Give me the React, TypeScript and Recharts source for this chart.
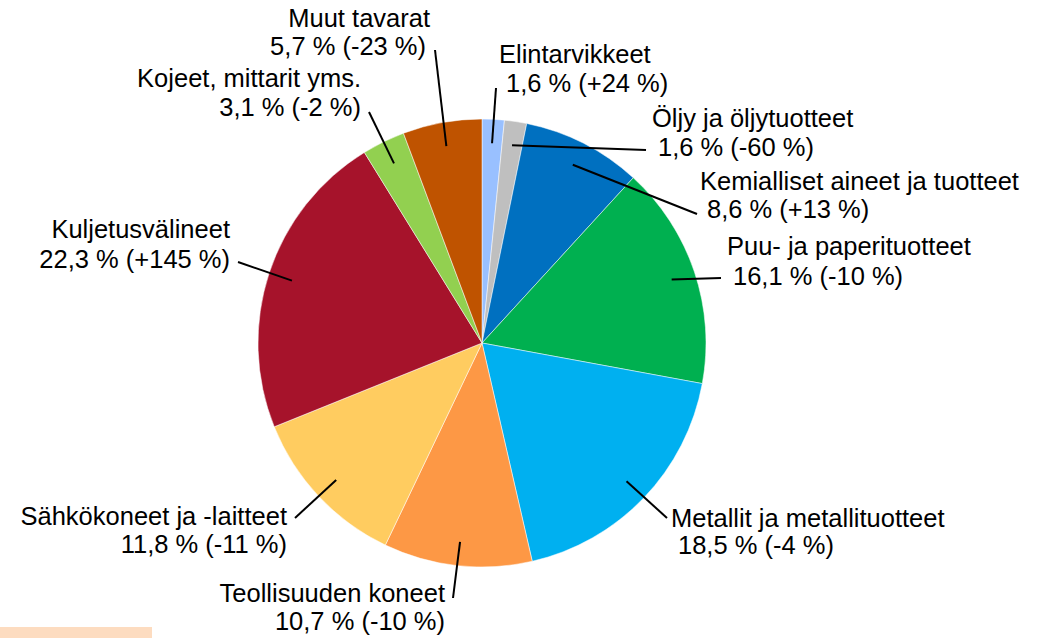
import React from 'react';
import { PieChart, Pie, Cell } from 'recharts';

const categories = [
  'Elintarvikkeet',
  'Öljy ja öljytuotteet',
  'Kemialliset aineet ja tuotteet',
  'Puu- ja paperituotteet',
  'Metallit ja metallituotteet',
  'Teollisuuden koneet',
  'Sähkökoneet ja -laitteet',
  'Kuljetusvälineet',
  'Kojeet, mittarit yms.',
  'Muut tavarat',
];
const shares = [1.6, 1.6, 8.6, 16.1, 18.5, 10.7, 11.8, 22.3, 3.1, 5.7];
const changes = ['+24', '-60', '+13', '-10', '-4', '-10', '-11', '+145', '-2', '-23'];

const colors = [
  '#99c0ff', '#bfbfbf', '#0070c0', '#00b050', '#00b0f0',
  '#fd9845', '#ffcc60', '#a6132b', '#92d050', '#bf5300',
];

// label layout: text anchor, line1 x, line1 baseline, line2 x, line2 baseline, leader outer end
const labelLayout = [
  { anchor: 'start', x1: 499, y1: 63, x2: 506, y2: 92, lx: 496, ly: 88 },
  { anchor: 'start', x1: 652, y1: 127, x2: 658, y2: 156, lx: 646, ly: 150 },
  { anchor: 'start', x1: 700, y1: 190, x2: 707, y2: 218, lx: 697, ly: 214 },
  { anchor: 'start', x1: 727, y1: 255, x2: 733, y2: 285, lx: 721, ly: 278 },
  { anchor: 'start', x1: 671, y1: 527, x2: 678, y2: 554, lx: 667, ly: 518 },
  { anchor: 'end', x1: 445, y1: 602, x2: 445, y2: 630, lx: 453, ly: 598 },
  { anchor: 'end', x1: 287, y1: 525, x2: 287, y2: 553, lx: 295, ly: 518 },
  { anchor: 'end', x1: 230, y1: 238, x2: 230, y2: 268, lx: 238, ly: 262 },
  { anchor: 'end', x1: 361, y1: 87, x2: 361, y2: 116, lx: 369, ly: 112 },
  { anchor: 'end', x1: 430, y1: 27, x2: 426, y2: 55, lx: 435, ly: 50 },
];

const data = categories.map((name, i) => ({
  name,
  value: shares[i],
  text: `${String(shares[i]).replace('.', ',')} % (${changes[i]} %)`,
}));

const RAD = Math.PI / 180;

const renderLabel = (props: any) => {
  const { cx, cy, midAngle, outerRadius, index } = props;
  const L = labelLayout[index];
  const r = outerRadius * 0.893;
  const ix = cx + r * Math.cos(-midAngle * RAD);
  const iy = cy + r * Math.sin(-midAngle * RAD);
  const d = data[index];
  return (
    <g key={`lbl-${index}`}>
      <line x1={ix} y1={iy} x2={L.lx} y2={L.ly} stroke="#000" strokeWidth={2} />
      <text
        x={L.x1}
        y={L.y1}
        textAnchor={L.anchor as any}
        fontFamily="'Liberation Sans', Arial, sans-serif"
        fontSize={25.5}
        fill="#000"
      >
        {d.name}
      </text>
      <text
        x={L.x2}
        y={L.y2}
        textAnchor={L.anchor as any}
        fontFamily="'Liberation Sans', Arial, sans-serif"
        fontSize={25.5}
        fill="#000"
      >
        {d.text}
      </text>
    </g>
  );
};

export default function App() {
  return (
    <div style={{ position: 'absolute', left: 0, top: 0, width: 1043, height: 638, background: '#fff' }}>
      <PieChart width={1043} height={638} margin={{ top: 0, right: 0, bottom: 0, left: 0 }}>
        <Pie
          data={data}
          dataKey="value"
          nameKey="name"
          cx={482}
          cy={343}
          outerRadius={224}
          startAngle={90}
          endAngle={-270}
          stroke="#ffffff"
          strokeWidth={0.5}
          label={renderLabel}
          labelLine={false}
          isAnimationActive={false}
        >
          {data.map((d, i) => (
            <Cell key={d.name} fill={colors[i]} />
          ))}
        </Pie>
      </PieChart>
      <div style={{ position: 'absolute', left: 0, top: 627, width: 152, height: 11, background: '#fddcc0' }} />
    </div>
  );
}
